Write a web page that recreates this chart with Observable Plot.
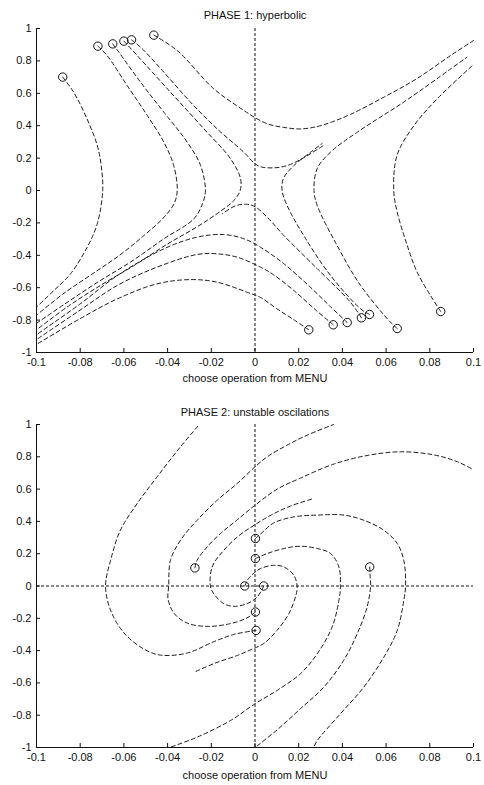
<!DOCTYPE html>
<html><head><meta charset="utf-8">
<script src="https://cdn.jsdelivr.net/npm/d3@7"></script>
<script src="https://cdn.jsdelivr.net/npm/@observablehq/plot@0.6"></script>
<style>html,body{margin:0;padding:0;background:#fff;} #c svg{display:block;}</style>
</head><body><div id="c"></div>
<script>
// ---------- axes ----------
const xDomain = [-0.1, 0.1];
const yDomain = [-1, 1];
const xTicks = [-0.1, -0.08, -0.06, -0.04, -0.02, 0, 0.02, 0.04, 0.06, 0.08, 0.1];
const xTickLabels = ["-0.1", "-0.08", "-0.06", "-0.04", "-0.02", "0", "0.02", "0.04", "0.06", "0.08", "0.1"];
const yTicks = [1, 0.8, 0.6, 0.4, 0.2, 0, -0.2, -0.4, -0.6, -0.8, -1];
const yTickLabels = ["1", "0.8", "0.6", "0.4", "0.2", "0", "-0.2", "-0.4", "-0.6", "-0.8", "-1"];
const titles = ["PHASE 1: hyperbolic", "PHASE 2: unstable oscilations"];
const xLabel = "choose operation from MENU";

// ---------- PHASE 1 trajectories (first point = start circle) ----------
const p1A = [[-0.0463,0.959],[-0.0356,0.864],[-0.0189,0.628],[-0.0051,0.494],[0,0.45],[0.006,0.41],[0.013,0.39],[0.0208,0.38],[0.0285,0.395],[0.0346,0.42],[0.0437,0.47],[0.059,0.576],[0.074,0.69],[0.0895,0.833],[0.1,0.926]];
const p1B = [[-0.0565,0.930],[-0.052,0.88],[-0.0417,0.73],[-0.0295,0.545],[-0.0173,0.38],[-0.0051,0.236],[0,0.165],[0.003,0.145],[0.009,0.14],[0.015,0.155],[0.022,0.2],[0.031,0.275]];
const p1F = [[-0.088,0.70],[-0.083,0.607],[-0.0768,0.44],[-0.0722,0.278],[-0.0704,0.154],[-0.0697,0],[-0.0722,-0.206],[-0.0768,-0.35],[-0.0844,-0.514],[-0.092,-0.617],[-0.1,-0.72]];
const p1G = [[-0.0719,0.891],[-0.0677,0.833],[-0.0585,0.648],[-0.0493,0.463],[-0.0417,0.298],[-0.0372,0.154],[-0.0356,0],[-0.037,-0.08],[-0.042,-0.17],[-0.051,-0.28],[-0.062,-0.4],[-0.075,-0.52],[-0.088,-0.64],[-0.1,-0.77]];
const p1H = [[-0.0651,0.905],[-0.0623,0.854],[-0.0524,0.669],[-0.0417,0.483],[-0.031,0.298],[-0.0249,0.154],[-0.0227,0],[-0.024,-0.08],[-0.028,-0.175],[-0.0417,-0.298],[-0.057,-0.442],[-0.072,-0.566],[-0.087,-0.7],[-0.1,-0.82]];
const p1I = [[-0.060,0.922],[-0.0539,0.833],[-0.0387,0.607],[-0.0234,0.381],[-0.0112,0.196],[-0.0066,0.072],[-0.0068,0],[-0.0097,-0.062],[-0.016,-0.13],[-0.026,-0.22],[-0.04,-0.33],[-0.055,-0.46],[-0.07,-0.58],[-0.085,-0.71],[-0.1,-0.86]];
const p1J = [[0.0246,-0.86],[0.018,-0.80],[0.010,-0.73],[0.0025,-0.66],[-0.0036,-0.628],[-0.0173,-0.566],[-0.0295,-0.55],[-0.0448,-0.576],[-0.063,-0.669],[-0.0799,-0.79],[-0.1,-0.95]];
const p1K = [[0.0358,-0.829],[0.028,-0.74],[0.018,-0.62],[0.0085,-0.52],[0.0025,-0.473],[-0.0081,-0.412],[-0.0173,-0.391],[-0.0265,-0.395],[-0.0448,-0.473],[-0.063,-0.586],[-0.0814,-0.751],[-0.1,-0.92]];
const p1L = [[0.0422,-0.815],[0.034,-0.71],[0.024,-0.58],[0.013,-0.45],[0.0025,-0.35],[-0.0051,-0.298],[-0.0143,-0.272],[-0.0265,-0.288],[-0.0417,-0.36],[-0.063,-0.525],[-0.08,-0.7],[-0.1,-0.89]];
const p1M = [[0.0487,-0.786],[0.0437,-0.69],[0.0285,-0.483],[0.0132,-0.278],[0.0056,-0.165],[0,-0.1],[-0.004,-0.085],[-0.009,-0.095],[-0.015,-0.144]];
const p1E = [[0.0524,-0.765],[0.0483,-0.73],[0.0346,-0.525],[0.0223,-0.278],[0.0147,-0.093],[0.0124,0],[0.013,0.074],[0.0178,0.154],[0.0254,0.236],[0.0307,0.29]];
const p1C = [[0.0651,-0.852],[0.062,-0.813],[0.0483,-0.586],[0.0376,-0.34],[0.0285,-0.093],[0.027,0],[0.0285,0.136],[0.0345,0.236],[0.0468,0.36],[0.068,0.545],[0.0895,0.75],[0.097,0.823]];
const p1D = [[0.085,-0.747],[0.0803,-0.648],[0.0742,-0.504],[0.0697,-0.34],[0.0651,-0.134],[0.0635,0],[0.065,0.216],[0.0727,0.40],[0.0834,0.566],[0.0994,0.77]];
const phase1 = [p1A, p1B, p1F, p1G, p1H, p1I, p1J, p1K, p1L, p1M, p1E, p1C, p1D];

// ---------- PHASE 2 trajectories (first point = start circle) ----------
const p2a = [[-0.0047,0],[-0.003,0.045],[-0.0005,0.08],[0.0025,0.108],[0.0086,0.128],[0.0132,0.118],[0.0178,0.066],[0.0193,-0.006],[0.0185,-0.068],[0.0155,-0.171],[0.0102,-0.273],[0.004,-0.356],[-0.002,-0.395],[-0.0081,-0.43],[-0.0189,-0.481],[-0.028,-0.535]];
const p2b = [[0.004,0],[0.001,-0.068],[-0.0036,-0.109],[-0.0097,-0.126],[-0.0143,-0.109],[-0.0189,-0.047],[-0.0204,0.0],[-0.0196,0.118],[-0.0143,0.221],[-0.0075,0.31],[0,0.38],[0.0075,0.44],[0.0162,0.495],[0.027,0.542]];
const p2c = [[0.0002,0.17],[0.0056,0.201],[0.0132,0.232],[0.0208,0.246],[0.0285,0.232],[0.0346,0.201],[0.0384,0.118],[0.0391,0],[0.0384,-0.089],[0.0353,-0.254],[0.0285,-0.419],[0.0208,-0.543],[0.0102,-0.646],[0,-0.729],[-0.0112,-0.833],[-0.0265,-0.936],[-0.0387,-0.998]];
const p2d = [[0.0002,0.294],[0.004,0.34],[0.0085,0.39],[0.0178,0.428],[0.0285,0.439],[0.0406,0.439],[0.0498,0.407],[0.059,0.345],[0.0651,0.263],[0.0681,0.159],[0.0689,0],[0.0681,-0.089],[0.0651,-0.275],[0.059,-0.44],[0.0498,-0.626],[0.0391,-0.791],[0.0285,-0.957],[0.0269,-0.998]];
const p2e = [[0.0525,0.118],[0.0527,0.06],[0.0529,0],[0.0513,-0.13],[0.0468,-0.295],[0.0406,-0.46],[0.0315,-0.626],[0.0208,-0.76],[0.0102,-0.89],[0.001,-0.99]];
const p2f = [[0.0002,-0.161],[-0.004,-0.2],[-0.012,-0.235],[-0.022,-0.25],[-0.031,-0.23],[-0.037,-0.17],[-0.0398,-0.08],[-0.0395,0],[-0.0387,0.159],[-0.0341,0.283],[-0.0265,0.407],[-0.0173,0.531],[-0.0081,0.635],[0,0.738],[0.0056,0.8],[0.0147,0.872],[0.0239,0.934],[0.036,1.0]];
const p2g = [[0.0005,-0.275],[-0.0097,-0.3],[-0.0189,-0.345],[-0.031,-0.415],[-0.0432,-0.428],[-0.0509,-0.39],[-0.06,-0.29],[-0.0661,-0.15],[-0.0684,0],[-0.0661,0.159],[-0.0616,0.345],[-0.0539,0.511],[-0.0448,0.676],[-0.0341,0.862],[-0.0255,1.0]];
const p2h = [[-0.0275,0.112],[-0.0265,0.159],[-0.0219,0.242],[-0.0158,0.325],[-0.0081,0.41],[0,0.5],[0.0102,0.6],[0.0208,0.668],[0.0361,0.755],[0.0513,0.808],[0.0666,0.831],[0.0818,0.812],[0.0925,0.77],[0.1,0.72]];
const phase2 = [p2a, p2b, p2c, p2d, p2e, p2f, p2g, p2h];

// ---------- drawing ----------
const W = 484, ML = 36, MR = 11;
const font = "'Liberation Sans', Arial, Helvetica, sans-serif";
const ink = "#111";

function panel({curves, title, crossY, height, mt, mb, titleDy, labelDy}) {
  const rows = curves.flatMap((c, i) => c.map(([x, y]) => ({curve: i, x, y})));
  const starts = curves.map(c => ({x: c[0][0], y: c[0][1]}));
  const innerW = W - ML - MR, innerH = height - mt - mb;
  const marks = [
    Plot.ruleX([0], {stroke: ink, strokeWidth: 1, strokeDasharray: "3,2"}),
  ];
  if (crossY) marks.push(Plot.ruleY([0], {stroke: ink, strokeWidth: 1, strokeDasharray: "3,2"}));
  marks.push(
    Plot.line(rows, {x: "x", y: "y", z: "curve", stroke: "#1a1a1a", strokeWidth: 1, strokeDasharray: "4,3", curve: "catmull-rom"}),
    Plot.dot(starts, {x: "x", y: "y", r: 4.2, stroke: ink, strokeWidth: 1, fill: "none"}),
    Plot.ruleX([xDomain[0]], {stroke: ink, strokeWidth: 1}),
    Plot.ruleY([yDomain[0]], {stroke: ink, strokeWidth: 1}),
    Plot.tickY(yTicks, {y: d => d, stroke: ink, insetRight: innerW - 4}),
    Plot.tickX(xTicks, {x: d => d, stroke: ink, insetTop: innerH - 4}),
    Plot.text([title], {frameAnchor: "top", dy: titleDy, lineAnchor: "middle", fill: ink, fontSize: 11}),
    Plot.text([xLabel], {frameAnchor: "bottom", dy: labelDy, lineAnchor: "middle", fill: ink, fontSize: 11})
  );
  return Plot.plot({
    width: W, height, marginTop: mt, marginBottom: mb, marginLeft: ML, marginRight: MR,
    style: {fontFamily: font, fontSize: "11px", color: ink, background: "#fff", overflow: "visible"},
    x: {domain: xDomain, ticks: xTicks, tickFormat: d => xTickLabels[xTicks.indexOf(d)], tickSize: 0, tickPadding: 6, label: null},
    y: {domain: yDomain, ticks: yTicks, tickFormat: d => yTickLabels[yTicks.indexOf(d)], tickSize: 0, tickPadding: 5, label: null},
    marks
  });
}

const c = document.getElementById("c");
c.appendChild(panel({curves: phase1, title: titles[0], crossY: false, height: 392, mt: 28, mb: 40, titleDy: -13, labelDy: 26}));
c.appendChild(panel({curves: phase2, title: titles[1], crossY: true, height: 393, mt: 32, mb: 38, titleDy: -12, labelDy: 28}));
</script>
</body></html>
